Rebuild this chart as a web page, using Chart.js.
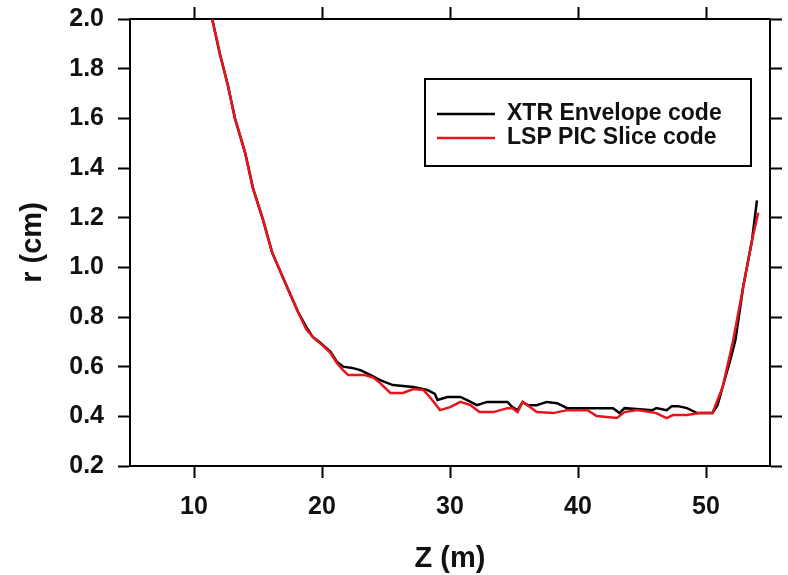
<!DOCTYPE html>
<html><head><meta charset="utf-8">
<script src="https://cdn.jsdelivr.net/npm/chart.js@4/dist/chart.umd.min.js"></script>
<style>html,body{margin:0;padding:0;background:#fff}canvas{display:block}</style>
</head><body>
<canvas id="c" width="788" height="575"></canvas>
<script>
const seriesNames = ['XTR Envelope code', 'LSP PIC Slice code'];
const xTitle = 'Z (m)';
const yTitle = 'r (cm)';
const xTicks = [10, 20, 30, 40, 50];
const yTicks = [0.2, 0.4, 0.6, 0.8, 1.0, 1.2, 1.4, 1.6, 1.8, 2.0];

const zBlack = [11.42,12.02,12.66,13.2,14.0,14.6,15.4,16.1,17.28,18.13,18.77,19.27,19.77,20.67,21.16,21.66,22.35,23.05,23.84,24.54,25.53,27.13,28.22,28.82,29.02,29.81,30.81,31.3,32.1,32.9,34.49,34.88,35.28,35.68,36.07,36.77,37.57,38.36,39.16,40.75,42.74,43.24,43.63,44.83,45.82,46.12,46.92,47.32,47.81,48.51,49.3,50.5,50.9,51.3,51.9,52.3,52.9,53.6,53.98];
const rBlack = [2.00,1.86,1.73,1.60,1.46,1.32,1.19,1.06,0.92,0.82,0.76,0.72,0.70,0.66,0.62,0.60,0.595,0.585,0.565,0.546,0.526,0.518,0.506,0.49,0.466,0.478,0.478,0.466,0.445,0.458,0.458,0.437,0.425,0.458,0.445,0.445,0.458,0.453,0.433,0.433,0.433,0.413,0.433,0.429,0.425,0.433,0.425,0.441,0.441,0.433,0.413,0.413,0.445,0.518,0.627,0.707,0.92,1.11,1.27];

const zRed = [11.42,12.02,12.66,13.2,14.0,14.6,15.4,16.1,17.28,18.13,18.77,19.37,20.07,20.67,21.16,21.66,22.05,23.35,24.05,24.54,25.34,26.33,27.13,27.92,28.42,29.22,30.01,30.81,31.6,32.3,33.39,34.49,34.88,35.28,35.68,36.07,36.77,38.06,39.16,40.75,41.45,43.04,43.63,44.63,46.12,46.92,47.42,48.51,49.5,50.5,51.3,52.1,52.9,53.6,54.08];
const rRed = [2.00,1.86,1.73,1.60,1.46,1.32,1.19,1.06,0.92,0.82,0.75,0.715,0.685,0.655,0.615,0.585,0.566,0.566,0.555,0.534,0.494,0.494,0.51,0.506,0.478,0.425,0.437,0.458,0.445,0.417,0.417,0.433,0.433,0.417,0.458,0.445,0.417,0.413,0.425,0.425,0.401,0.393,0.417,0.425,0.413,0.393,0.405,0.405,0.413,0.413,0.518,0.70,0.92,1.11,1.22];

const FONT = '"Liberation Sans", Arial, Helvetica, sans-serif';
const toPts = (xs, ys) => xs.map((x, i) => ({x: x, y: ys[i]}));

function axis(pos, tickVals, min, max, showLabels, size, extra) {
  const horiz = pos === 'top' || pos === 'bottom';
  return Object.assign({
    type: 'linear', position: pos, min: min, max: max,
    afterBuildTicks: s => { s.ticks = tickVals.map(v => ({value: v})); },
    afterFit: s => {
      if (horiz) s.height = size; else s.width = size;
      s.paddingTop = 0; s.paddingBottom = 0; s.paddingLeft = 0; s.paddingRight = 0;
    },
    grid: {display: true, drawOnChartArea: false, drawTicks: true, tickLength: 12, tickWidth: 2, tickColor: '#000'},
    border: {display: true, color: '#000', width: 2},
    ticks: {display: showLabels, color: '#111', font: {family: FONT, size: 25, weight: 'bold'}, padding: 14, maxRotation: 0,
      callback: v => horiz ? String(v) : Number(v).toFixed(1)}
  }, extra || {});
}

const boxLegend = {
  id: 'boxLegend',
  afterDraw(chart) {
    const ctx = chart.ctx, a = chart.chartArea;
    const x0 = a.left + 295, y0 = a.top + 60, w = 326, h = 87;
    ctx.save();
    ctx.fillStyle = '#fff'; ctx.fillRect(x0, y0, w, h);
    ctx.lineWidth = 2; ctx.strokeStyle = '#000'; ctx.strokeRect(x0, y0, w, h);
    chart.data.datasets.forEach((ds, i) => {
      const y = y0 + 35 + i * 24;
      ctx.strokeStyle = ds.borderColor; ctx.lineWidth = 2.5;
      ctx.beginPath(); ctx.moveTo(x0 + 12, y); ctx.lineTo(x0 + 70, y); ctx.stroke();
      ctx.fillStyle = '#111'; ctx.font = 'bold 23px ' + FONT; ctx.textBaseline = 'alphabetic';
      ctx.fillText(ds.label, x0 + 82, y + 6);
    });
    ctx.restore();
  }
};

new Chart(document.getElementById('c'), {
  type: 'line',
  data: {
    datasets: [
      {label: seriesNames[0], data: toPts(zBlack, rBlack), borderColor: '#000', borderWidth: 2.5, pointRadius: 0, tension: 0, fill: false, order: 1},
      {label: seriesNames[1], data: toPts(zRed, rRed), borderColor: '#e8141c', borderWidth: 2.5, pointRadius: 0, tension: 0, fill: false, order: 0}
    ]
  },
  options: {
    responsive: false, animation: false, devicePixelRatio: 1,
    layout: {padding: 0},
    plugins: {legend: {display: false}, tooltip: {enabled: false}},
    scales: {
      x: axis('bottom', xTicks, 5, 55, true, 109, {title: {display: true, text: xTitle, color: '#111', font: {family: FONT, size: 29, weight: 'bold'}, padding: {top: 0, bottom: -1}}}),
      x2: axis('top', xTicks, 5, 55, false, 19),
      y: axis('left', yTicks, 0.2, 2.0, true, 130, {title: {display: true, text: yTitle, color: '#111', font: {family: FONT, size: 29, weight: 'bold'}, padding: {top: 16, bottom: 0}}}),
      y2: axis('right', yTicks, 0.2, 2.0, false, 18)
    }
  },
  plugins: [boxLegend]
});
</script>
</body></html>
